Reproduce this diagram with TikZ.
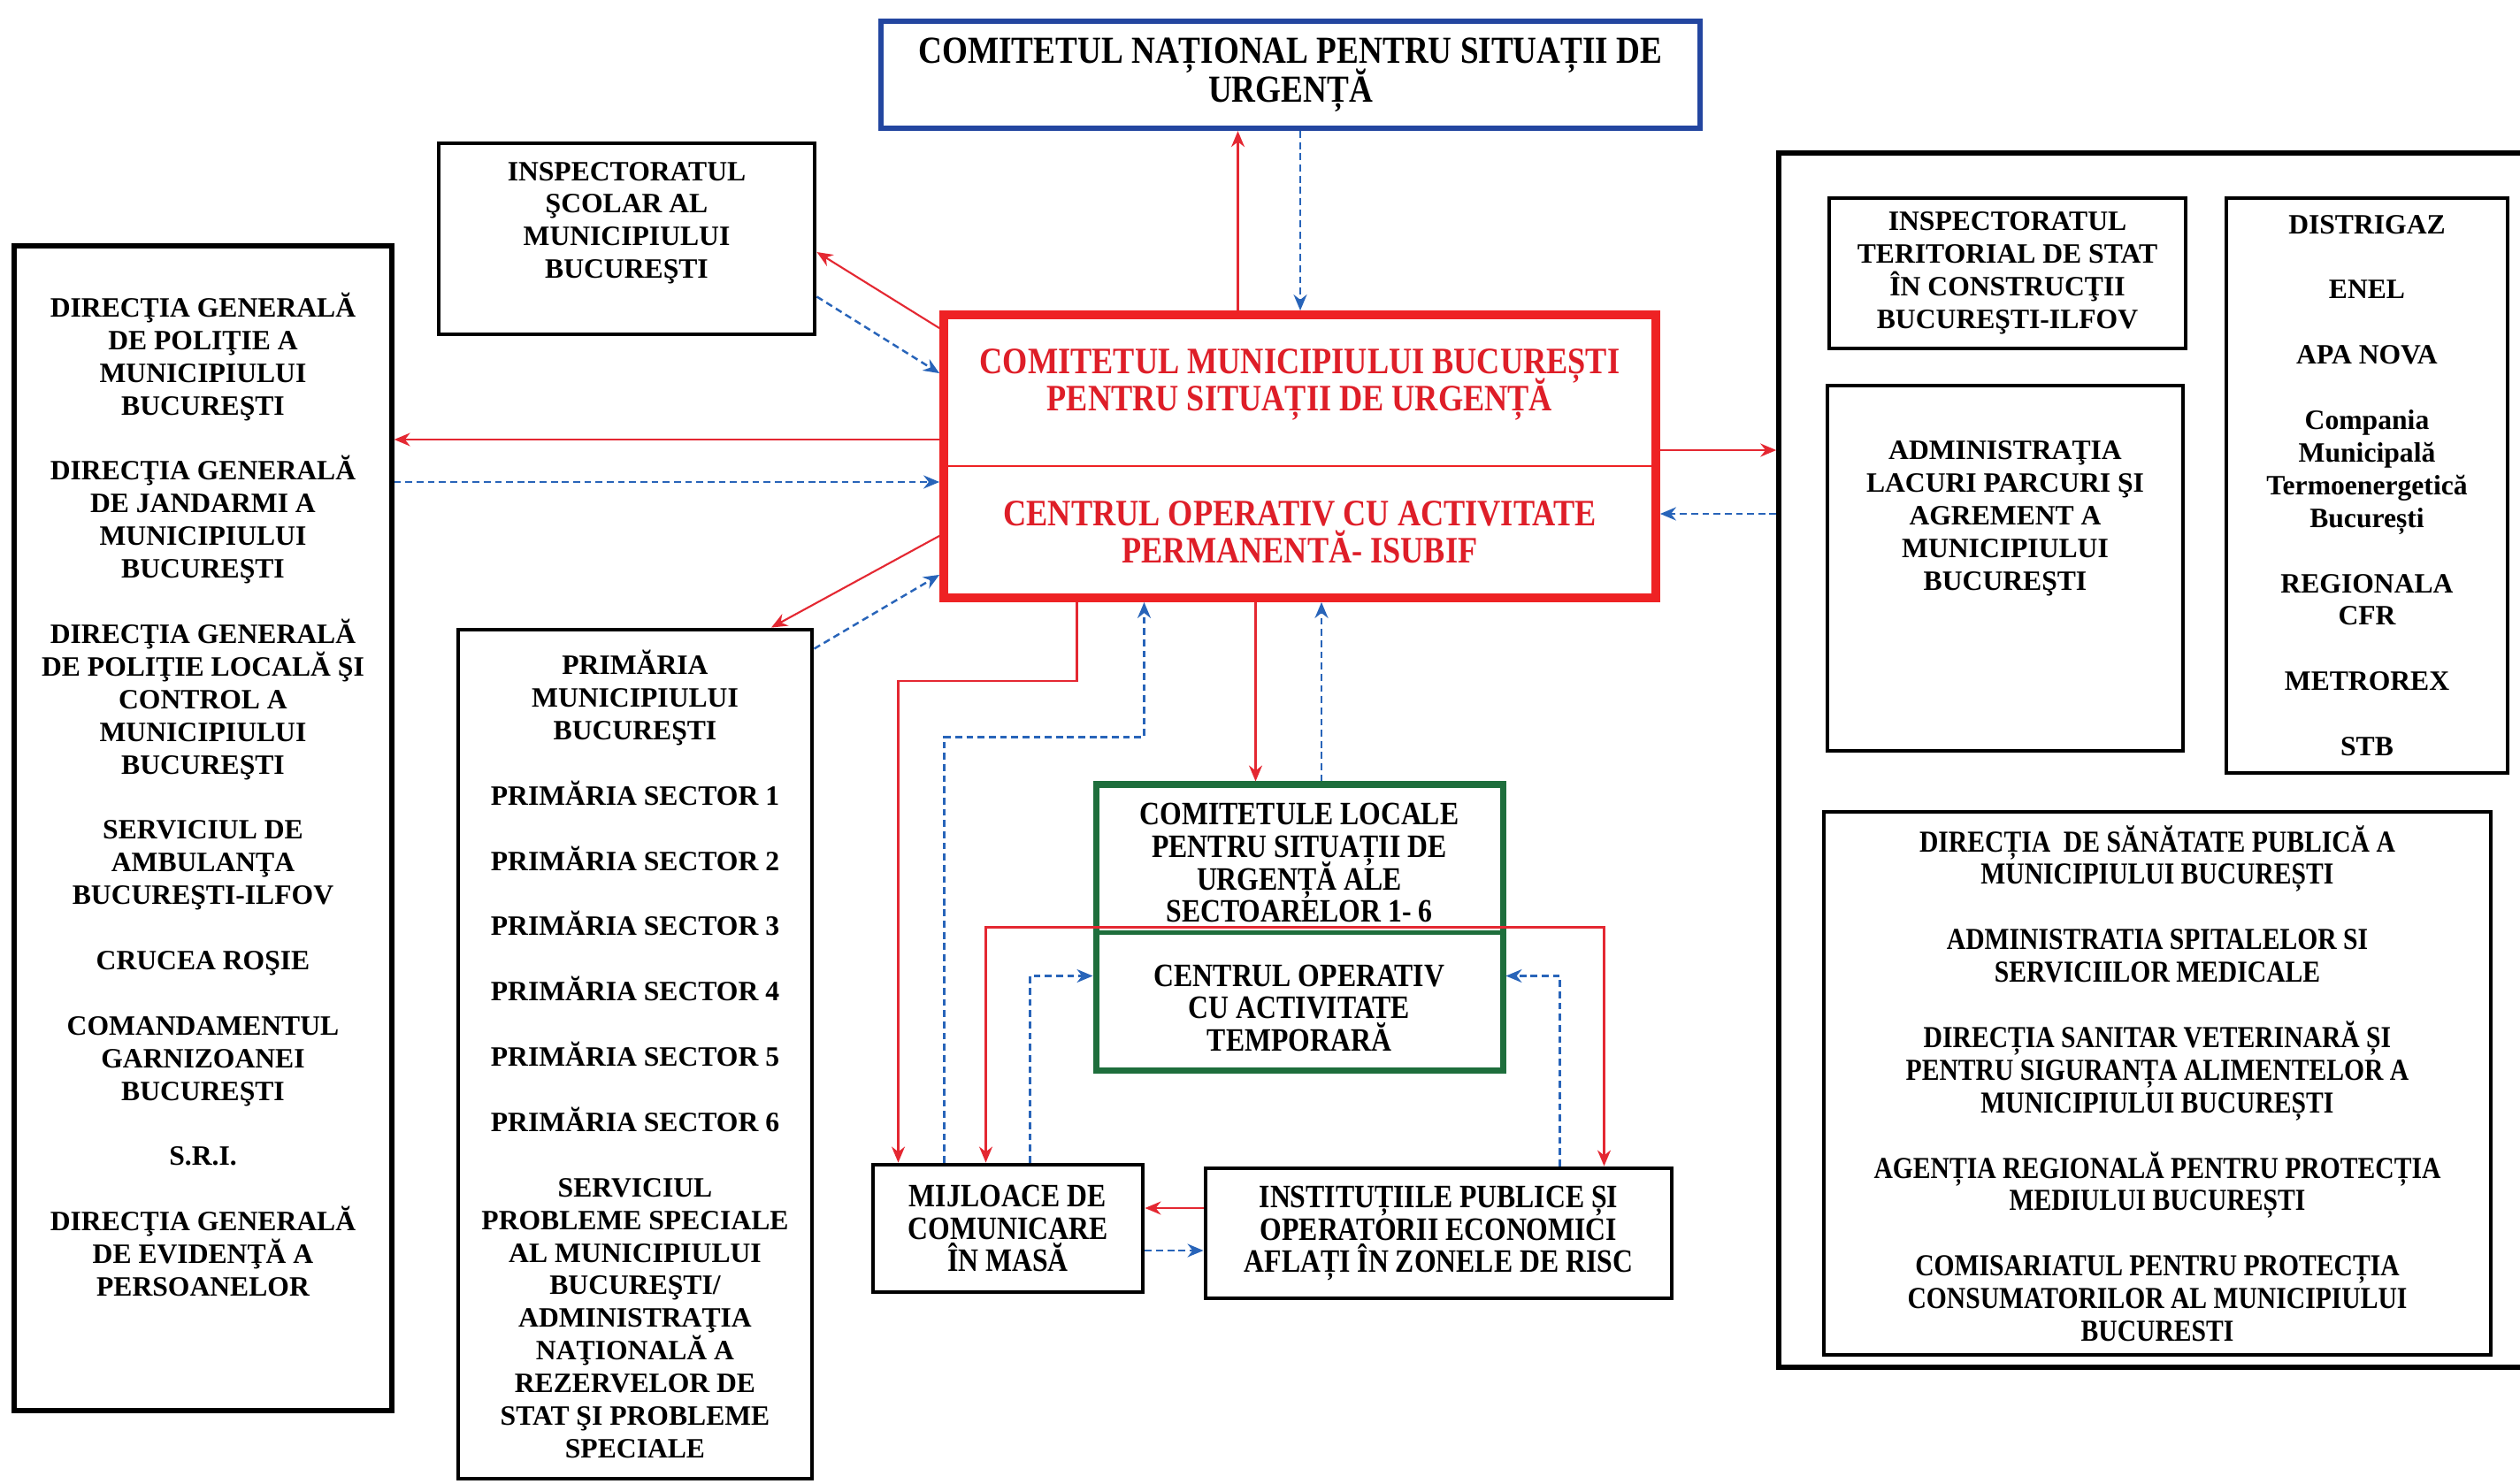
\documentclass[tikz,border=0pt]{standalone}
\usepackage{fontspec}
\setmainfont{Liberation Serif}
\newfontfamily\narrowfont{Liberation Serif}[FakeStretch=0.86]
\usepackage{xcolor}
\usetikzlibrary{arrows.meta}
\usetikzlibrary{positioning}
\definecolor{boxred}{RGB}{238,34,36}
\definecolor{txtred}{RGB}{222,30,40}
\definecolor{boxblue}{RGB}{35,70,160}
\definecolor{boxgreen}{RGB}{30,110,60}
\definecolor{linered}{RGB}{228,40,50}
\definecolor{lineblue}{RGB}{40,100,185}
\setlength{\lineskiplimit}{-20pt}

\begin{document}
\begin{tikzpicture}[thin,
      >={Stealth[length=1.8mm,width=1.5mm]},
      box/.style={draw, line width=1.4pt, align=center, inner sep=0pt,
        font=\bfseries\fontsize{9}{10.5}\selectfont},
      narrowbox/.style={box, font=\narrowfont\bfseries\fontsize{10.5}{10.5}\selectfont},
      redbox/.style={box, draw=boxred, line width=2.8pt, text=txtred,
        font=\narrowfont\bfseries\fontsize{12}{12}\selectfont},
      redarr/.style={draw=linered, line width=0.6pt, ->},
      bluearr/.style={draw=lineblue, line width=0.7pt, dash pattern=on 2.2pt off 1.4pt, ->}]

      \useasboundingbox (0,0) rectangle (28.49,-16.77);

      \node[box, draw=boxblue, line width=1.8pt, minimum width=9.26cm, minimum height=1.21cm,
        font=\narrowfont\bfseries\fontsize{12.3}{12.5}\selectfont] (nat) at (14.59,-0.845)
        {COMITETUL NAȚIONAL PENTRU SITUAȚII DE\\URGENȚĂ};

      \node[redbox, minimum width=8.05cm, minimum height=3.2cm] (cmb) at (14.695,-5.16)
        {COMITETUL MUNICIPIULUI BUCUREȘTI\\PENTRU SITUAȚII DE URGENȚĂ\\[25pt]
         CENTRUL OPERATIV CU ACTIVITATE\\PERMANENTĂ- ISUBIF};
      \draw[boxred, line width=0.8pt] ([yshift=-0.11cm]cmb.west) -- ([yshift=-0.11cm]cmb.east);

      \node[box, minimum width=4.25cm, minimum height=2.16cm] (isc) at (7.085,-2.70)
        {INSPECTORATUL\\ŞCOLAR AL\\MUNICIPIULUI\\BUCUREŞTI\\[1.5pt]~};

      \node[box, line width=1.5pt, minimum width=4.27cm, minimum height=13.17cm] (dg) at (2.295,-9.365)
        {DIRECŢIA GENERALĂ\\DE POLIŢIE A\\MUNICIPIULUI\\BUCUREŞTI\\[10.5pt]
         DIRECŢIA GENERALĂ\\DE JANDARMI A\\MUNICIPIULUI\\BUCUREŞTI\\[10.5pt]
         DIRECŢIA GENERALĂ\\DE POLIŢIE LOCALĂ ŞI\\CONTROL A\\MUNICIPIULUI\\BUCUREŞTI\\[10.5pt]
         SERVICIUL DE\\AMBULANŢA\\BUCUREŞTI-ILFOV\\[10.5pt]
         CRUCEA ROŞIE\\[10.5pt]
         COMANDAMENTUL\\GARNIZOANEI\\BUCUREŞTI\\[10.5pt]
         S.R.I.\\[10.5pt]
         DIRECŢIA GENERALĂ\\DE EVIDENŢĂ A\\PERSOANELOR\\[11.3pt]~};

      \node[box, minimum width=4.0cm, minimum height=9.6cm] (pmb) at (7.18,-11.92)
        {PRIMĂRIA\\MUNICIPIULUI\\BUCUREŞTI\\[10.5pt]
         PRIMĂRIA SECTOR 1\\[10.5pt]PRIMĂRIA SECTOR 2\\[10.5pt]PRIMĂRIA SECTOR 3\\[10.5pt]
         PRIMĂRIA SECTOR 4\\[10.5pt]PRIMĂRIA SECTOR 5\\[10.5pt]PRIMĂRIA SECTOR 6\\[10.5pt]
         SERVICIUL\\PROBLEME SPECIALE\\AL MUNICIPIULUI\\BUCUREŞTI/\\ADMINISTRAŢIA\\
         NAŢIONALĂ A\\REZERVELOR DE\\STAT ŞI PROBLEME\\SPECIALE};

      \node[narrowbox, draw=boxgreen, line width=2pt, minimum width=4.6cm, minimum height=3.23cm] (cl) at (14.69,-10.485)
        {COMITETULE LOCALE\\PENTRU SITUAȚII DE\\URGENȚĂ ALE\\SECTOARELOR 1- 6\\[10pt]
         CENTRUL OPERATIV\\CU ACTIVITATE\\TEMPORARĂ};
      \draw[boxgreen, line width=1.2pt] ([yshift=-0.06cm]cl.west) -- ([yshift=-0.06cm]cl.east);

      \node[narrowbox, minimum width=3.05cm, minimum height=1.44cm] (mij) at (11.395,-13.89)
        {MIJLOACE DE\\COMUNICARE\\ÎN MASĂ};
      \node[narrowbox, minimum width=5.27cm, minimum height=1.47cm] (inst) at (16.265,-13.945)
        {INSTITUȚIILE PUBLICE ȘI\\OPERATORII ECONOMICI\\AFLAȚI ÎN ZONELE DE RISC};

      \node[box, line width=1.6pt, minimum width=8.7cm, minimum height=13.73cm] (ext) at (24.46,-8.595) {};
      \node[box, minimum width=4.03cm, minimum height=1.7cm] (its) at (22.695,-3.09)
        {INSPECTORATUL\\TERITORIAL DE STAT\\ÎN CONSTRUCŢII\\BUCUREŞTI-ILFOV};
      \node[box, minimum width=4.02cm, minimum height=4.13cm] (lac) at (22.67,-6.425)
        {ADMINISTRAŢIA\\LACURI PARCURI ŞI\\AGREMENT A\\MUNICIPIULUI\\BUCUREŞTI\\[23.5pt]~};
      \node[box, minimum width=3.18cm, minimum height=6.5cm] (util) at (26.76,-5.49)
        {DISTRIGAZ\\[10.5pt]ENEL\\[10.5pt]APA NOVA\\[10.5pt]
         Compania\\Municipală\\Termoenergetică\\București\\[10.5pt]
         REGIONALA\\CFR\\[10.5pt]METROREX\\[10.5pt]STB};
      \node[narrowbox, minimum width=7.54cm, minimum height=6.14cm,
        font=\narrowfont\bfseries\fontsize{9.8}{10.5}\selectfont] (san) at (24.39,-12.25)
        {DIRECȚIA~ DE SĂNĂTATE PUBLICĂ A\\MUNICIPIULUI BUCUREȘTI\\[10.5pt]
         ADMINISTRATIA SPITALELOR SI\\SERVICIILOR MEDICALE\\[10.5pt]
         DIRECȚIA SANITAR VETERINARĂ ȘI\\PENTRU SIGURANȚA ALIMENTELOR A\\MUNICIPIULUI BUCUREȘTI\\[10.5pt]
         AGENȚIA REGIONALĂ PENTRU PROTECȚIA\\MEDIULUI BUCUREȘTI\\[10.5pt]
         COMISARIATUL PENTRU PROTECȚIA\\CONSUMATORILOR AL MUNICIPIULUI\\BUCURESTI};

      \draw[redarr] ([xshift=-0.7cm]cmb.north) -- ([xshift=-0.7cm]cmb.north |- nat.south);
      \draw[bluearr] ([xshift=0.11cm]nat.south) -- ([xshift=0.11cm]nat.south |- cmb.north);
      \draw[redarr] ([yshift=-0.2cm]cmb.north west) -- ([yshift=-0.15cm]isc.east);
      \draw[bluearr] ([yshift=0.45cm]isc.south east) -- ([yshift=-0.71cm]cmb.north west);
      \draw[redarr] ([yshift=0.19cm]cmb.west) -- ([yshift=0.19cm]cmb.west -| dg.east);
      \draw[bluearr] ([yshift=-0.29cm]cmb.west -| dg.east) -- ([yshift=-0.29cm]cmb.west);
      \draw[redarr] ([yshift=0.75cm]cmb.south west) -- ([xshift=1.54cm]pmb.north);
      \draw[bluearr] ([yshift=-0.24cm]pmb.north east) -- ([yshift=0.31cm]cmb.south west);
      \draw[redarr] ([yshift=0.07cm]cmb.east) -- ([yshift=0.07cm]cmb.east -| ext.west);
      \draw[bluearr] ([yshift=-0.65cm]cmb.east -| ext.west) -- ([yshift=-0.65cm]cmb.east);
      \draw[redarr] ([xshift=-0.5cm]cmb.south) -- ([xshift=-0.5cm]cmb.south |- cl.north);
      \draw[bluearr] ([xshift=0.25cm]cl.north) -- ([xshift=0.25cm]cl.north |- cmb.south);
      \draw[redarr] ([xshift=-2.52cm]cmb.south) -- ++(0,-0.89) -| ([xshift=-1.24cm]mij.north);
      \draw[bluearr] ([xshift=-0.72cm]mij.north) -- ++(0,4.81) -| ([xshift=-1.76cm]cmb.south);
      \draw[redarr, <->] ([xshift=-0.25cm]mij.north) |- (cl.west) -- (cl.east) -| ([xshift=1.87cm]inst.north);
      \draw[bluearr] ([xshift=0.25cm]mij.north) |- ([yshift=-0.55cm]cl.west);
      \draw[bluearr] ([xshift=1.37cm]inst.north) |- ([yshift=-0.55cm]cl.east);
      \draw[redarr] ([yshift=0.23cm]mij.east -| inst.west) -- ([yshift=0.23cm]mij.east);
      \draw[bluearr] ([yshift=-0.25cm]mij.east) -- ([yshift=-0.25cm]mij.east -| inst.west);
\end{tikzpicture}
\end{document}
